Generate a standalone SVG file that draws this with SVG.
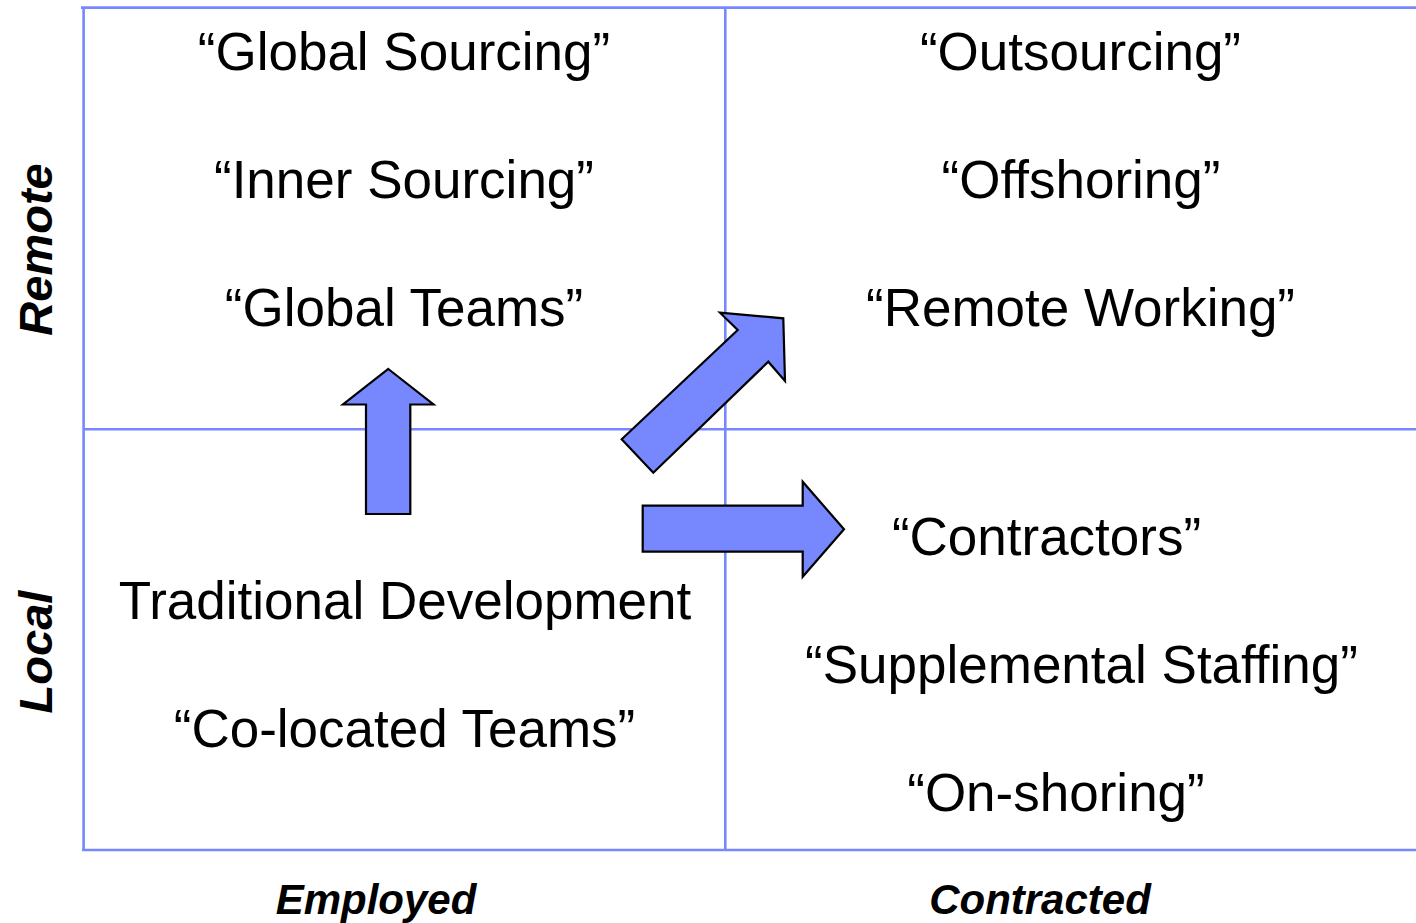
<svg xmlns="http://www.w3.org/2000/svg" width="1416" height="923" viewBox="0 0 1416 923">
<style>
.grid{stroke:#7788ff;stroke-width:2.6;fill:none}
.arr{fill:#7788ff;stroke:#000;stroke-width:2.2;stroke-linejoin:miter}
.t{font-family:"Liberation Sans",Arial,sans-serif;font-size:53px;fill:#000;text-anchor:middle}
.ax{font-family:"Liberation Sans",Arial,sans-serif;font-size:42px;font-weight:bold;font-style:italic;fill:#000;text-anchor:middle}
.ay{font-family:"Liberation Sans",Arial,sans-serif;font-size:47px;font-weight:bold;font-style:italic;fill:#000;text-anchor:middle}
</style>
<rect width="1416" height="923" fill="#fff"/>
<g id="grid">
<line class="grid" x1="81" y1="7.6" x2="1416" y2="7.6"/>
<line class="grid" x1="83.6" y1="7" x2="83.6" y2="851"/>
<line class="grid" x1="82" y1="850" x2="1416" y2="850"/>
<line class="grid" x1="725.3" y1="7" x2="725.3" y2="851"/>
<line class="grid" x1="83" y1="429.3" x2="1416" y2="429.3"/>
</g>
<g id="q-employed-remote">
<text class="t" x="404" y="70">“Global Sourcing”</text>
<text class="t" x="404" y="198">“Inner Sourcing”</text>
<text class="t" x="404" y="326">“Global Teams”</text>
</g>
<g id="q-contracted-remote">
<text class="t" x="1080.5" y="70">“Outsourcing”</text>
<text class="t" x="1081" y="198">“Offshoring”</text>
<text class="t" x="1080.5" y="326">“Remote Working”</text>
</g>
<g id="q-employed-local">
<text class="t" x="405" y="619">Traditional Development</text>
<text class="t" x="404.5" y="747">“Co-located Teams”</text>
</g>
<g id="q-contracted-local">
<text class="t" x="1046.5" y="555">“Contractors”</text>
<text class="t" x="1081.5" y="683">“Supplemental Staffing”</text>
<text class="t" x="1056" y="811">“On-shoring”</text>
</g>
<g id="labels">
<text class="ax" x="376" y="914">Employed</text>
<text class="ax" x="1040" y="914">Contracted</text>
<text class="ay" transform="translate(52,249.5) rotate(-90)">Remote</text>
<text class="ay" transform="translate(52,652) rotate(-90)">Local</text>
</g>
<g id="connectors">
<polygon class="arr" points="388.3,369 433.5,404.5 410.3,404.5 410.3,514 366,514 366,404.5 343,404.5"/>
<polygon class="arr" points="621.7,439.3 737.7,330 720,312.7 783.3,318.3 785,381 768.3,361.7 653.3,472.7"/>
<polygon class="arr" points="642.7,505.7 802.7,505.7 802.7,481.7 844,529.3 802.7,576.7 802.7,551.7 642.7,551.7"/>
</g>
</svg>
